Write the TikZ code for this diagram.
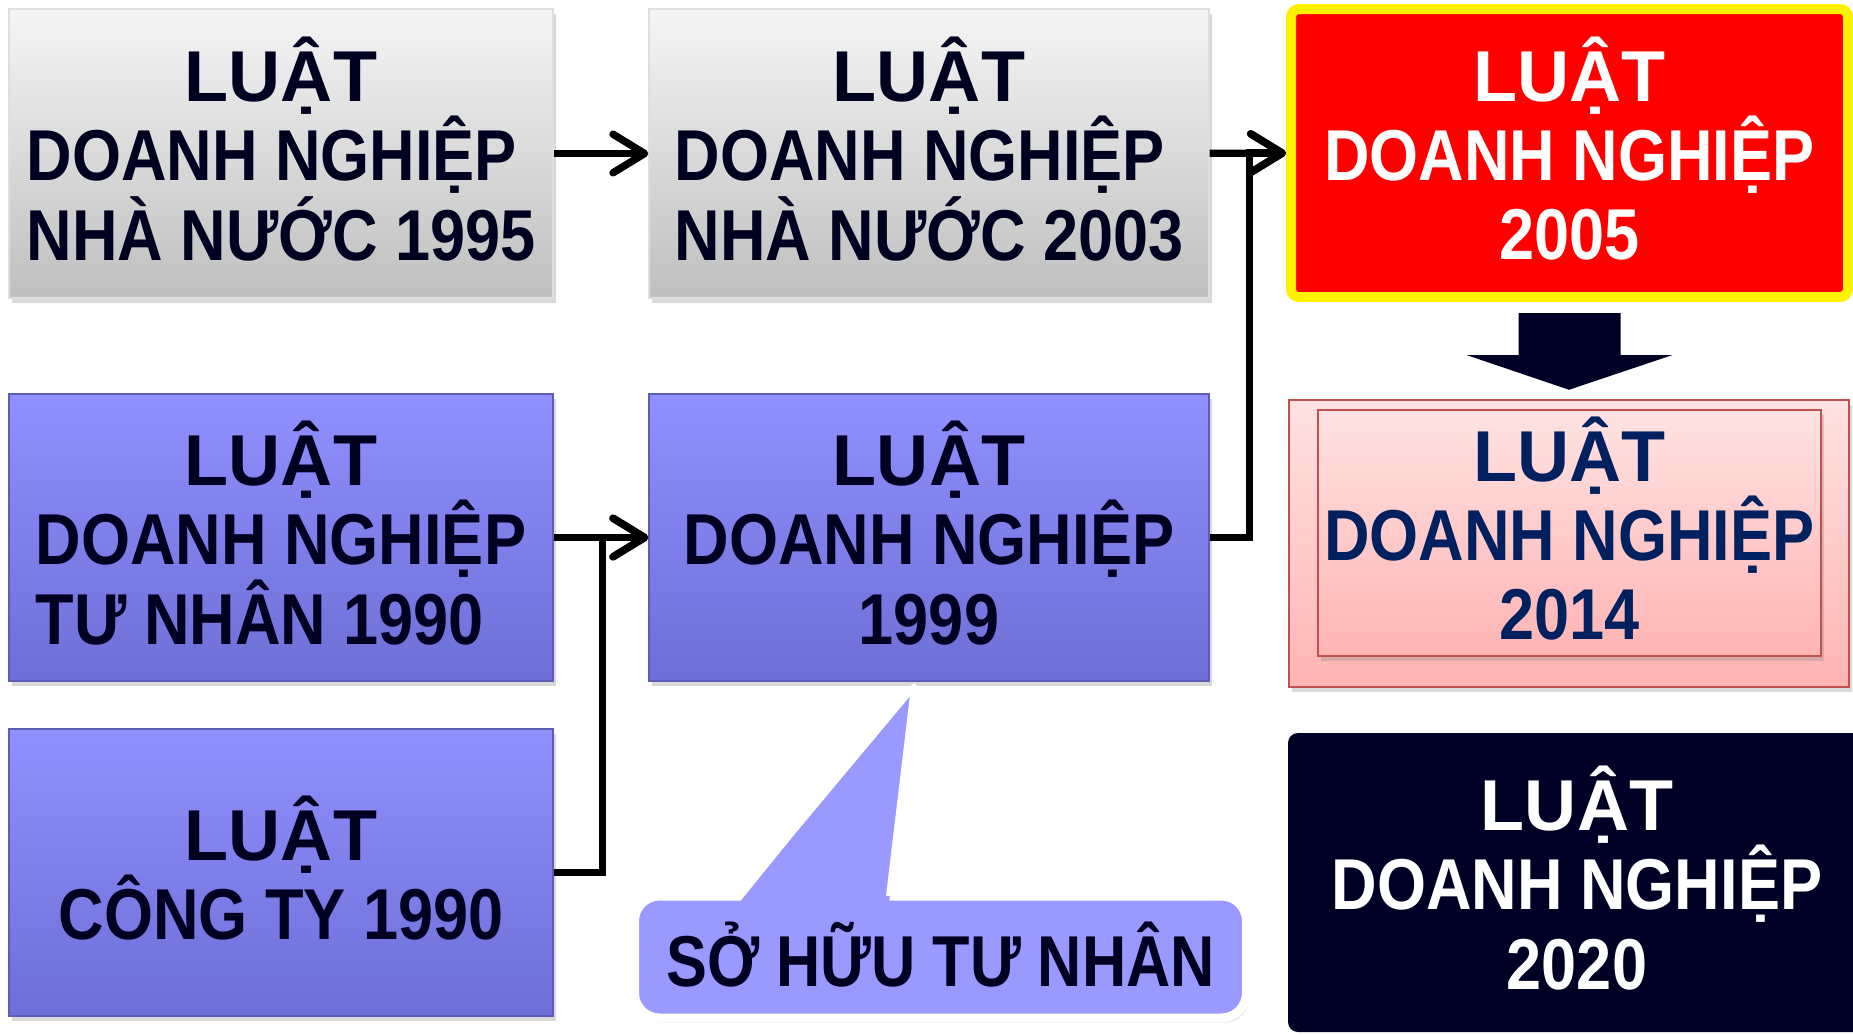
\documentclass[tikz,border=0pt]{standalone}
\usepackage{fontspec}
\setmainfont{Liberation Sans}[FakeStretch=0.875]
\newfontfamily\headfont{Liberation Sans}
\newfontfamily\tightfont{Liberation Sans}[FakeStretch=0.85]
\usetikzlibrary{arrows.meta, calc, shadows}
\definecolor{inknavy}{HTML}{000020}
\definecolor{deepnavy}{HTML}{000026}
\definecolor{textnavy}{HTML}{002060}
\definecolor{lawblue}{HTML}{9090FF}
\definecolor{lawbluedark}{HTML}{6E6ED6}
\definecolor{bubblelilac}{HTML}{9999FF}
\definecolor{pinktop}{HTML}{FFE2E2}
\definecolor{pinkbottom}{HTML}{FFB4B4}
\definecolor{pinkedge}{HTML}{C0504D}
\newlength\pairwd
\newcommand\ls{\rule[-2.75pt]{0pt}{22.5pt}}
\newcommand\luat{{\headfont LUẬT}}
\newcommand\lpair[2]{\settowidth{\pairwd}{#1}\setbox2=\hbox{#2}\ifdim\wd2>\pairwd \global\pairwd=\wd2 \else\global\pairwd=\pairwd\fi\hbox to\pairwd{#1\hfil}\\\hbox to\pairwd{#2\hfil}}
\tikzstyle{law}=[inner sep=0, align=center, text=inknavy, font=\fontsize{20.5}{22.5}\selectfont\bfseries, execute at begin node=\ls, execute at end node=\ls]
\tikzstyle{shade}=[drop shadow={opacity=0.3, shadow xshift=0.8pt, shadow yshift=-1.3pt}]
\tikzstyle{statebox}=[law, shade, top color=gray!8, bottom color=gray!50, draw=gray!25, line width=0.4pt]
\tikzstyle{privbox}=[law, shade, top color=lawblue, bottom color=lawbluedark, draw=lawbluedark!85!black, line width=0.4pt]
\tikzstyle{keybox}=[law, fill=red, draw=yellow, line width=1mm, rounded corners=0.8mm, text=white]
\tikzstyle{nextbox}=[law, shade, top color=pinktop, bottom color=pinkbottom, draw=pinkedge, line width=0.25mm, text=textnavy]
\tikzstyle{newbox}=[law, fill=deepnavy, rounded corners=1mm, text=white]
\tikzstyle{bubble}=[law, shade, fill=bubblelilac, draw=white, line width=0.9mm, rounded corners=2.5mm, font=\fontsize{20.5}{22.5}\selectfont\bfseries\tightfont]
\tikzstyle{link}=[line width=2.1pt, -{Straight Barb[length=9pt, width=11pt, round]}]

\begin{document}
\begin{tikzpicture}[x=0.1mm, y=-0.1mm]

\useasboundingbox (0, 0) rectangle (1853, 1034);
\clip (0, 0) rectangle (1853, 1034);

\node [statebox, minimum width=54.4mm, minimum height=28.9mm] (A) at (281, 153.5) {\luat\\\lpair{DOANH NGHIỆP}{NHÀ NƯỚC 1995}};
\node [statebox, minimum width=56mm, minimum height=28.9mm] (B) at (929, 153.5) {\luat\\\lpair{DOANH NGHIỆP}{NHÀ NƯỚC 2003}};
\node [keybox, minimum width=55.7mm, minimum height=28.8mm] (C) at (1569.5, 153) {\luat\\DOANH NGHIỆP\\2005};

\node [privbox, minimum width=54.4mm, minimum height=28.7mm] (D) at (281, 537.5) {\luat\\\lpair{DOANH NGHIỆP}{TƯ NHÂN 1990}};
\node [privbox, minimum width=56mm, minimum height=28.7mm] (E) at (929, 537.5) {\luat\\DOANH NGHIỆP\\1999};
\node [nextbox, minimum width=56mm, minimum height=28.7mm] (F0) at (1569, 543.5) {};
\node [nextbox, minimum width=50.3mm, minimum height=24.6mm] (F) at (1569.5, 533) {\luat\\DOANH NGHIỆP\\2014};

\node [privbox, minimum width=54.4mm, minimum height=28.7mm] (G) at (281, 872.5) {\luat\\CÔNG TY 1990};
\node [newbox, minimum width=57.8mm, minimum height=29.9mm] (H) at (1577, 882.5) {\luat\\DOANH NGHIỆP\\2020};

\node [bubble, minimum width=61.2mm, minimum height=12.2mm] (own) at (940.5, 957) {SỞ HỮU TƯ NHÂN};
\coordinate (tip) at ($(E.south)+(-15, 5)$);
\fill [bubblelilac] (739, 903) -- (tip) -- (889, 903) -- cycle;
\draw [white, line width=0.6mm, line join=round] (739, 896) -- (tip) -- (889, 896);

\draw [link] (A) -- (B);
\draw [link] (B) -- (C);
\draw [link] (D) -- (E);
\draw [link] (E.east) -- ++(40, 0) |- (C.west);
\draw [link] (G.east) -- ++(49, 0) |- (E.west);

% block arrow from 2005 down to 2014
\fill [deepnavy] ($(C.south)+(-51, 11)$) -- ($(C.south)+(51, 11)$) -- ($(C.south)+(51, 53)$) -- ($(C.south)+(103, 53)$)
  -- ($(F0.north)+(0, -9)$) -- ($(C.south)+(-103, 53)$) -- ($(C.south)+(-51, 53)$) -- cycle;

\end{tikzpicture}
\end{document}
